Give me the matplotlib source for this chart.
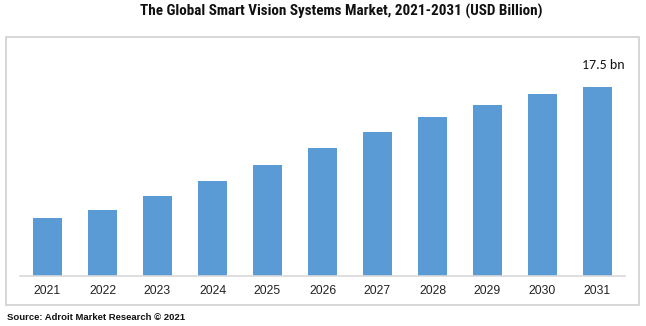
import matplotlib
matplotlib.use("Agg")
import matplotlib.pyplot as plt
from matplotlib.patches import Rectangle

years = ["2021", "2022", "2023", "2024", "2025", "2026", "2027", "2028", "2029", "2030", "2031"]
values = [5.37, 6.11, 7.41, 8.80, 10.28, 11.85, 13.33, 14.72, 15.83, 16.85, 17.5]
annotation = "17.5 bn"
title = "The Global Smart Vision Systems Market, 2021-2031 (USD Billion)"
source = "Source: Adroit Market Research © 2021"

W, H = 646, 326
fig = plt.figure(figsize=(W / 100, H / 100), dpi=100)

# border box
fig.patches.append(Rectangle((6 / W, 1 - 305 / H), (639 - 6) / W, (305 - 37) / H,
                             transform=fig.transFigure, fill=False,
                             edgecolor="#d0d0d0", linewidth=1.2))

ax_left, ax_right = 20, 625
ax_bottom, ax_top = 276, 60
ax = fig.add_axes([ax_left / W, 1 - ax_bottom / H, (ax_right - ax_left) / W, (ax_bottom - ax_top) / H])
x = list(range(len(years)))
ax.bar(x, values, width=0.51, color="#5B9BD5")
ax.set_xlim(-0.5, len(years) - 0.5)
ax.set_ylim(0, 20)
ax.set_xticks(x)
ax.set_xticklabels(years, fontsize=8.8, family="Liberation Sans", color="#222222")
ax.tick_params(axis="x", length=0, pad=6.5)
ax.set_yticks([])
for s in ["top", "right", "left"]:
    ax.spines[s].set_visible(False)
ax.spines["bottom"].set_color("#d9d9d9")
ax.spines["bottom"].set_linewidth(1.2)

ax.annotate(annotation, xy=(x[-1], values[-1]), xytext=(4, 16), textcoords="offset points",
            ha="center", va="center", fontsize=10, family=["Carlito", "DejaVu Sans"], color="#111111")

fig.text(341.5 / W, 1 - 11 / H, title, ha="center", va="center", fontsize=10.9,
         fontweight="bold", family=["Roboto Condensed", "PT Sans Narrow", "Liberation Sans"], color="#111111")
fig.text(7 / W, 1 - 317.5 / H, source, ha="left", va="center", fontsize=6.8,
         fontweight="bold", family="Liberation Sans", color="#111111")

fig.savefig("out.png", dpi=100)
